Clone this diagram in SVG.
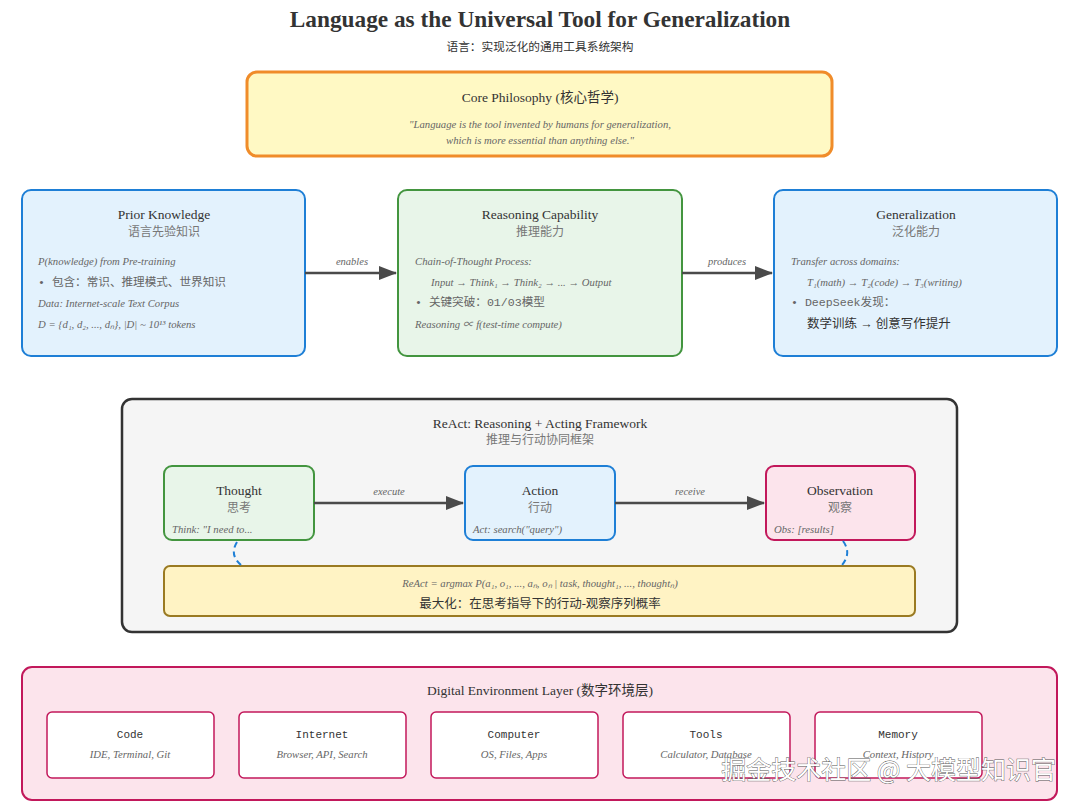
<svg xmlns="http://www.w3.org/2000/svg" width="1080" height="806" viewBox="0 0 1080 806">
<defs>
<marker id="arrBig" viewBox="0 0 18 14" markerWidth="18" markerHeight="14" refX="17" refY="7" orient="auto" markerUnits="userSpaceOnUse">
<path d="M0,0 L18,7 L0,14 Z" fill="#4a4a4a"/>
</marker>
</defs>
<style>
.t{font-family:"Liberation Serif","Noto Sans CJK SC",serif;fill:#333}
.h{font-size:13.5px;text-anchor:middle;fill:#333}
.zh{font-size:12px;text-anchor:middle;fill:#777}
.it{font-size:10.7px;font-style:italic;fill:#666}
.b{font-size:11.6px;fill:#666;font-family:"Liberation Mono","Noto Sans CJK SC",monospace}
.lbl{font-size:10.5px;font-style:italic;fill:#666;text-anchor:middle}
.mono{font-family:"Liberation Mono","Noto Sans CJK SC",monospace;font-size:11px;fill:#333;text-anchor:middle}
.blue{fill:#e3f2fd;stroke:#1e7fd6;stroke-width:2}
.green{fill:#e8f5e9;stroke:#43953f;stroke-width:2}
.pink{fill:#fce4ec;stroke:#c2185b;stroke-width:2}
.conn{stroke:#4a4a4a;stroke-width:2.5;fill:none}
.dash{stroke:#1e7fd6;stroke-width:2;fill:none;stroke-dasharray:6,4}
</style>
<rect width="1080" height="806" fill="#ffffff"/>

<g id="title">
<text class="t" x="540" y="27" font-size="23.3" font-weight="bold" text-anchor="middle" fill="#222">Language as the Universal Tool for Generalization</text>
<text class="t" x="540" y="51" font-size="11.7" text-anchor="middle" fill="#777">语言：实现泛化的通用工具系统架构</text>
</g>

<g id="core">
<rect x="247" y="72" width="585" height="84" rx="10" fill="#fff9c4" stroke="#f08c2a" stroke-width="3"/>
<text class="t h" x="540" y="102">Core Philosophy (核心哲学)</text>
<text class="t it" x="540" y="128" text-anchor="middle">"Language is the tool invented by humans for generalization,</text>
<text class="t it" x="540" y="144" text-anchor="middle">which is more essential than anything else."</text>
</g>

<g id="prior">
<rect class="blue" x="22" y="190" width="283" height="166" rx="9"/>
<text class="t h" x="164" y="219">Prior Knowledge</text>
<text class="t zh" x="164" y="236">语言先验知识</text>
<text class="t it" x="38" y="265">P(knowledge) from Pre-training</text>
<text class="t b" x="38" y="286">• 包含：常识、推理模式、世界知识</text>
<text class="t it" x="38" y="307">Data: Internet-scale Text Corpus</text>
<text class="t it" x="38" y="328">D = {d₁, d₂, ..., dₙ}, |D| ~ 10¹³ tokens</text>
</g>

<g id="reasoning">
<rect class="green" x="398" y="190" width="284" height="166" rx="9"/>
<text class="t h" x="540" y="219">Reasoning Capability</text>
<text class="t zh" x="540" y="236">推理能力</text>
<text class="t it" x="415" y="265">Chain-of-Thought Process:</text>
<text class="t it" x="431" y="286">Input → Think₁ → Think₂ → ... → Output</text>
<text class="t b" x="415" y="306">• 关键突破：01/03模型</text>
<text class="t it" x="415" y="328">Reasoning ∝ f(test-time compute)</text>
</g>

<g id="generalization">
<rect class="blue" x="774" y="190" width="283" height="166" rx="9"/>
<text class="t h" x="916" y="219">Generalization</text>
<text class="t zh" x="916" y="236">泛化能力</text>
<text class="t it" x="791" y="265">Transfer across domains:</text>
<text class="t it" x="807" y="286">T₁(math) → T₂(code) → T₃(writing)</text>
<text class="t b" x="791" y="306">• DeepSeek发现：</text>
<text class="t" x="807" y="328" font-size="12.5" fill="#666">数学训练 → 创意写作提升</text>
</g>

<g id="react">
<rect x="122" y="399" width="835" height="233" rx="10" fill="#f5f5f5" stroke="#333" stroke-width="2.5"/>
<text class="t h" x="540" y="428">ReAct: Reasoning + Acting Framework</text>
<text class="t zh" x="540" y="444">推理与行动协同框架</text>
</g>

<g id="thought">
<rect class="green" x="164" y="466" width="150" height="74" rx="8"/>
<text class="t h" x="239" y="495">Thought</text>
<text class="t zh" x="239" y="512">思考</text>
<text class="t it" x="172" y="533">Think: "I need to...</text>
</g>

<g id="action">
<rect class="blue" x="465" y="466" width="150" height="74" rx="8"/>
<text class="t h" x="540" y="495">Action</text>
<text class="t zh" x="540" y="512">行动</text>
<text class="t it" x="473" y="533">Act: search("query")</text>
</g>

<g id="observation">
<rect class="pink" x="766" y="466" width="149" height="74" rx="8"/>
<text class="t h" x="840" y="495">Observation</text>
<text class="t zh" x="840" y="512">观察</text>
<text class="t it" x="774" y="533">Obs: [results]</text>
</g>

<g id="formula">
<rect x="164" y="566" width="751" height="50" rx="6" fill="#fff3c4" stroke="#9a7a22" stroke-width="2"/>
<text class="t it" x="540" y="587" text-anchor="middle">ReAct = argmax P(a₁, o₁, ..., aₙ, oₙ | task, thought₁, ..., thoughtₙ)</text>
<text class="t" x="540" y="608" font-size="12.5" text-anchor="middle" fill="#666">最大化：在思考指导下的行动-观察序列概率</text>
</g>

<g id="connectors">
<line class="conn" x1="305" y1="273" x2="396" y2="273" marker-end="url(#arrBig)"/>
<text class="t lbl" x="352" y="265">enables</text>
<line class="conn" x1="682" y1="273" x2="772" y2="273" marker-end="url(#arrBig)"/>
<text class="t lbl" x="727" y="265">produces</text>
<line class="conn" x1="314" y1="503" x2="463" y2="503" marker-end="url(#arrBig)"/>
<text class="t lbl" x="389" y="495">execute</text>
<line class="conn" x1="615" y1="503" x2="764" y2="503" marker-end="url(#arrBig)"/>
<text class="t lbl" x="690" y="495">receive</text>
<path class="dash" d="M237,542 Q229,555 241,565"/>
<path class="dash" d="M843,541 Q852,553 842,565"/>
</g>

<g id="digital">
<rect class="pink" x="22" y="667" width="1035" height="133" rx="10"/>
<text class="t h" x="540" y="695">Digital Environment Layer (数字环境层)</text>
</g>
<g id="code">
<rect x="47" y="712" width="167" height="66" rx="5" fill="#fff" stroke="#c2185b" stroke-width="1.5"/>
<text class="mono" x="130" y="738">Code</text>
<text class="t it" x="130" y="758" text-anchor="middle">IDE, Terminal, Git</text>
</g>
<g id="internet">
<rect x="239" y="712" width="167" height="66" rx="5" fill="#fff" stroke="#c2185b" stroke-width="1.5"/>
<text class="mono" x="322" y="738">Internet</text>
<text class="t it" x="322" y="758" text-anchor="middle">Browser, API, Search</text>
</g>
<g id="computer">
<rect x="431" y="712" width="167" height="66" rx="5" fill="#fff" stroke="#c2185b" stroke-width="1.5"/>
<text class="mono" x="514" y="738">Computer</text>
<text class="t it" x="514" y="758" text-anchor="middle">OS, Files, Apps</text>
</g>
<g id="tools">
<rect x="623" y="712" width="167" height="66" rx="5" fill="#fff" stroke="#c2185b" stroke-width="1.5"/>
<text class="mono" x="706" y="738">Tools</text>
<text class="t it" x="706" y="758" text-anchor="middle">Calculator, Database</text>
</g>
<g id="memory">
<rect x="815" y="712" width="167" height="66" rx="5" fill="#fff" stroke="#c2185b" stroke-width="1.5"/>
<text class="mono" x="898" y="738">Memory</text>
<text class="t it" x="898" y="758" text-anchor="middle">Context, History</text>
</g>

<g id="watermark">
<text x="1056" y="779" text-anchor="end" font-family="'Noto Sans CJK SC',sans-serif" font-size="25" fill="#ffffff" stroke="#555" stroke-width="0.8" paint-order="stroke">掘金技术社区 @ 大模型知识官</text>
</g>
</svg>
